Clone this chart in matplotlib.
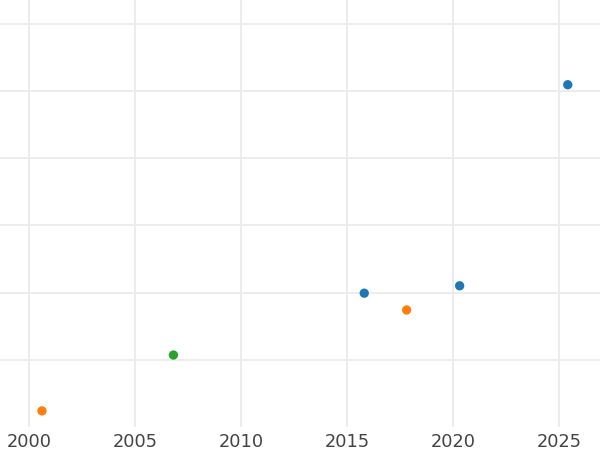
import matplotlib
matplotlib.use("Agg")
import matplotlib.pyplot as plt

years = [2000.6, 2006.8, 2015.8, 2017.8, 2020.3, 2025.4]
values = [0.24, 1.07, 1.99, 1.74, 2.10, 5.09]
colors = ["#ff7f0e", "#2ca02c", "#1f77b4", "#ff7f0e", "#1f77b4", "#1f77b4"]
xticks = [2000, 2005, 2010, 2015, 2020, 2025]
yticks = [1, 2, 3, 4, 5, 6]

fig = plt.figure(figsize=(6, 4.5), dpi=100)
ax = fig.add_axes([0, 1 - 427 / 450, 1, 427 / 450])
ax.scatter(years, values, c=colors, s=45, zorder=3, linewidths=0)
ax.set_xlim(1998.62, 2026.92)
ax.set_ylim(0, 6.35)
ax.set_xticks(xticks)
ax.set_xticklabels([str(t) for t in xticks])
ax.set_yticks(yticks)
ax.set_yticklabels([])
ax.grid(True, color="#ebebeb", linewidth=1.3)
ax.set_axisbelow(True)
for s in ax.spines.values():
    s.set_visible(False)
ax.tick_params(axis="both", length=0)
ax.tick_params(axis="x", labelsize=12.8, labelcolor="#444444", pad=4)
fig.savefig("out.png", dpi=100)
